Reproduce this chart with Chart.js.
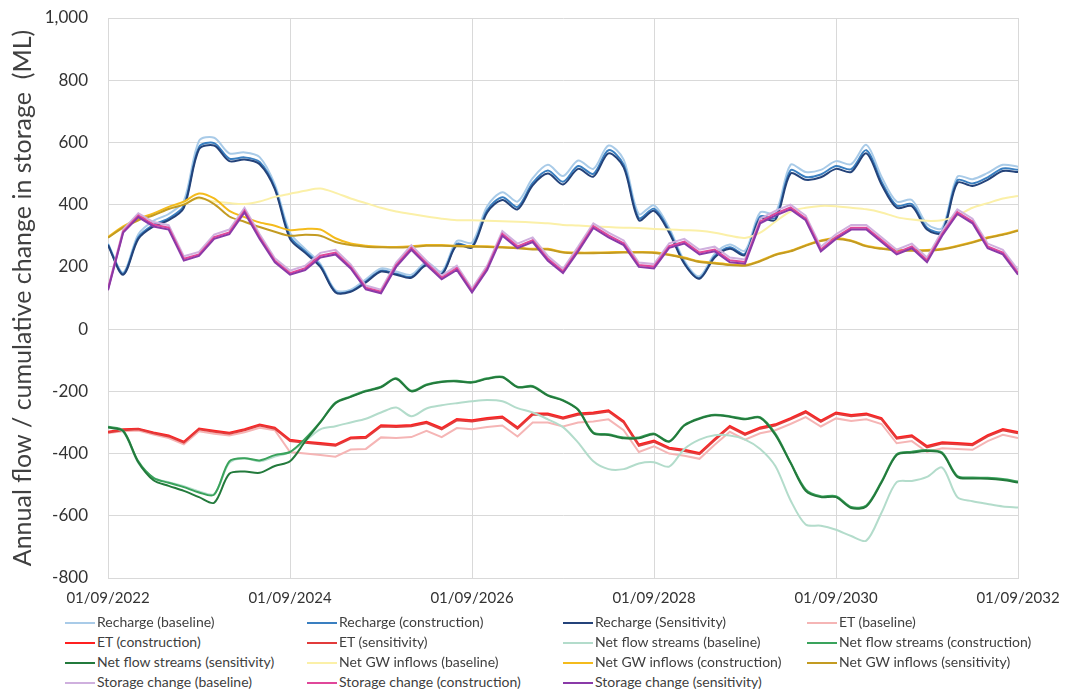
<!DOCTYPE html>
<html lang="en">
<head>
<meta charset="UTF-8">
<title>Annual flow / cumulative change in storage</title>
<style>
  body { margin: 0; background: #fff; font-family: Lato, sans-serif; }
  #wrap { position: relative; width: 1067px; height: 692px; }
  #chart { position: absolute; left: 0; top: 0; }
  .lg { position: absolute; height: 20px; line-height: 20px; font-size: 14px; color: #404040; white-space: nowrap; }
  .lg i { display: inline-block; width: 30px; height: 2px; vertical-align: middle; margin-right: 2px; }
</style>
</head>
<body>
<div id="wrap">
  <canvas id="chart" width="1067" height="614"></canvas>
</div>
<script src="https://cdn.jsdelivr.net/npm/chart.js"></script>
<script>
// months since 01/09/2022, every 2 months
const months = [0,2,4,6,8,10,12,14,16,18,20,22,24,26,28,30,32,34,36,38,40,42,44,46,48,50,52,54,56,58,
  60,62,64,66,68,70,72,74,76,78,80,82,84,86,88,90,92,94,96,98,100,102,104,106,108,110,112,114,116,118,120];
const xTickLabels = ['01/09/2022','01/09/2024','01/09/2026','01/09/2028','01/09/2030','01/09/2032'];

const rechargeBase = [275,182,305,348,370,412,605,615,565,568,553,465,310,258,210,125,127,160,195,185,175,215,185,283,278,395,440,410,485,528,492,542,515,590,545,370,398,325,220,170,242,272,252,375,372,528,505,512,540,530,592,490,410,415,338,325,490,482,502,528,522];
const rechargeCons = [272,178,295,335,356,397,585,598,548,552,537,455,298,250,204,120,122,153,188,178,168,208,178,274,266,382,424,393,470,510,474,524,499,575,529,357,387,316,213,164,234,263,242,362,357,510,489,497,524,514,575,474,397,402,326,315,478,468,488,516,512];
const rechargeSens = [270,175,290,330,350,390,578,590,540,545,530,450,290,245,200,118,120,150,185,175,165,205,175,270,262,375,415,385,462,500,465,515,490,565,520,350,380,310,210,162,230,258,238,355,350,500,480,488,515,505,565,465,390,395,320,310,470,460,480,508,505];

const etBase = [-334,-328,-326,-339,-350,-370,-328,-336,-342,-332,-317,-325,-395,-400,-405,-410,-387,-385,-348,-350,-347,-327,-347,-318,-322,-315,-310,-345,-300,-300,-313,-300,-297,-290,-325,-395,-377,-400,-407,-417,-372,-330,-355,-335,-325,-305,-283,-313,-287,-295,-290,-305,-367,-360,-395,-383,-385,-388,-360,-340,-350];
const etCons = [-330,-322,-320,-332,-342,-362,-320,-327,-333,-322,-307,-317,-356,-362,-366,-371,-348,-346,-309,-311,-308,-298,-318,-289,-293,-286,-281,-316,-271,-271,-284,-271,-268,-261,-296,-371,-358,-381,-388,-398,-353,-311,-336,-316,-306,-286,-264,-294,-268,-276,-271,-286,-348,-341,-376,-364,-366,-369,-341,-321,-331];
const etSens = [-332,-325,-322,-335,-345,-365,-322,-330,-336,-325,-310,-320,-360,-365,-370,-375,-352,-350,-313,-315,-312,-302,-322,-293,-297,-290,-285,-320,-275,-275,-288,-275,-272,-265,-300,-375,-362,-385,-392,-402,-357,-315,-340,-320,-310,-290,-268,-298,-272,-280,-275,-290,-352,-345,-380,-368,-370,-373,-345,-325,-335];

const streamsBase = [-316,-330,-430,-478,-492,-505,-522,-530,-430,-415,-425,-410,-395,-360,-322,-312,-300,-288,-268,-252,-280,-255,-245,-238,-232,-228,-232,-254,-268,-290,-315,-365,-425,-450,-450,-432,-428,-442,-385,-355,-341,-342,-355,-385,-440,-550,-628,-632,-645,-665,-680,-590,-492,-488,-475,-445,-540,-553,-562,-570,-573];
const streamsCons = [-314,-326,-425,-478,-494,-508,-525,-532,-425,-415,-422,-405,-395,-352,-298,-236,-216,-198,-185,-158,-198,-178,-168,-166,-170,-158,-153,-185,-183,-212,-228,-258,-332,-338,-348,-348,-336,-360,-308,-286,-275,-280,-288,-283,-336,-428,-515,-537,-537,-572,-567,-490,-402,-394,-389,-397,-472,-477,-478,-482,-490];
const streamsSens = [-316,-328,-428,-486,-504,-520,-540,-558,-465,-458,-462,-440,-425,-361,-300,-238,-218,-200,-187,-160,-200,-180,-170,-168,-172,-160,-155,-187,-185,-214,-230,-260,-335,-340,-351,-351,-338,-362,-310,-288,-277,-282,-290,-285,-340,-430,-520,-540,-540,-575,-570,-493,-405,-397,-392,-400,-475,-480,-481,-485,-493];

const gwBase = [296,325,350,368,388,405,420,410,405,402,410,425,435,445,452,438,420,405,390,378,370,362,355,350,350,348,347,345,343,340,335,333,330,328,326,325,322,320,318,316,310,300,293,310,345,378,390,396,395,390,385,375,360,352,348,350,365,390,405,420,428];
const gwCons = [296,330,355,372,393,410,436,420,380,360,343,332,318,322,320,292,275,268,265,264,266,270,270,268,267,266,264,262,258,258,248,246,246,247,248,248,247,240,230,218,213,208,206,220,240,252,270,285,292,285,268,260,255,254,254,258,268,280,295,305,318];
const gwSens = [294,326,350,366,386,400,423,402,362,345,328,313,300,303,300,280,270,265,263,262,264,268,268,266,265,264,262,260,256,256,246,244,244,245,246,246,245,238,228,216,211,206,204,218,238,250,268,283,290,283,266,258,253,252,252,256,266,278,293,303,316];

const storageBase = [132,320,372,344,334,234,248,304,320,390,305,228,188,204,245,255,208,140,127,214,270,220,172,204,130,204,315,275,295,235,194,265,340,310,285,214,209,276,290,255,265,230,224,355,380,400,365,265,305,335,335,295,255,275,230,315,385,355,275,255,190];
const storageCons = [128,314,365,336,326,226,240,296,311,381,296,220,180,196,236,246,200,133,120,206,261,212,165,196,123,196,306,266,286,226,186,256,331,301,276,206,201,267,281,246,256,221,216,346,371,391,356,256,296,326,326,286,246,266,221,306,376,346,266,246,181];
const storageSens = [125,310,360,330,320,220,235,290,305,375,290,215,175,190,230,240,195,128,115,200,255,206,160,190,118,190,300,260,280,220,180,250,325,295,270,200,195,261,275,240,250,215,210,340,365,385,350,250,290,320,320,280,240,260,215,300,370,340,260,240,175];

const yTicks = [1000,800,600,400,200,0,-200,-400,-600,-800];

function pts(vals) {
  return vals.map((v, i) => ({ x: months[i], y: v }));
}

const series = [
  ['Recharge (baseline)', rechargeBase, '#a9cbe8', 2, 0.3],
  ['Recharge (construction)', rechargeCons, '#3a7fc0', 2, 0.3],
  ['Recharge (Sensitivity)', rechargeSens, '#24437a', 2, 0.3],
  ['ET (baseline)', etBase, '#f5b5b5', 2, 0],
  ['ET (construction)', etCons, '#ff2020', 2, 0],
  ['ET (sensitivity)', etSens, '#e23b3b', 2, 0],
  ['Net flow streams (baseline)', streamsBase, '#b3dccb', 2, 0.3],
  ['Net flow streams (construction)', streamsCons, '#3aa35c', 2, 0.3],
  ['Net flow streams (sensitivity)', streamsSens, '#237a3c', 2, 0.3],
  ['Net GW inflows (baseline)', gwBase, '#fbf0a8', 2, 0.3],
  ['Net GW inflows (construction)', gwCons, '#f4bb1c', 2, 0.3],
  ['Net GW inflows (sensitivity)', gwSens, '#c39b22', 2, 0.3],
  ['Storage change (baseline)', storageBase, '#cfb0de', 2, 0],
  ['Storage change (construction)', storageCons, '#e0479a', 2, 0],
  ['Storage change (sensitivity)', storageSens, '#8a3aa8', 2, 0]
];

const datasets = series.map((s, i) => ({
  label: s[0],
  data: pts(s[1]),
  borderColor: s[2],
  backgroundColor: s[2],
  borderWidth: s[3],
  tension: s[4],
  pointRadius: 0,
  fill: false,
  order: -i
}));

const gridColor = '#d9d9d9';

new Chart(document.getElementById('chart'), {
  type: 'line',
  data: { datasets: datasets },
  options: {
    responsive: false,
    animation: false,
    layout: { padding: { left: 0, right: 49, top: 18, bottom: 4 } },
    plugins: { legend: { display: false }, tooltip: { enabled: false } },
    scales: {
      x: {
        type: 'linear',
        min: 0,
        max: 120,
        ticks: {
          stepSize: 24,
          color: '#333',
          font: { family: 'Lato', size: 15 },
          padding: 3,
          maxRotation: 0,
          callback: function(v) { return xTickLabels[v / 24]; }
        },
        // invisible tick marks only give the labels their distance from the axis
        grid: { color: gridColor, tickLength: 8, tickColor: 'rgba(0,0,0,0)' },
        border: { color: gridColor }
      },
      y: {
        min: -800,
        max: 1000,
        afterBuildTicks: function(scale) { scale.ticks = yTicks.map(v => ({ value: v })); },
        afterFit: function(scale) { scale.width = 108; },
        ticks: {
          color: '#333',
          font: { family: 'Lato', size: 17 },
          padding: 3,
          callback: function(v) { return v.toLocaleString('en-US'); }
        },
        grid: { color: gridColor, tickLength: 17, tickColor: 'rgba(0,0,0,0)' },
        border: { color: gridColor },
        title: {
          display: true,
          text: 'Annual flow / cumulative change in storage  (ML)',
          color: '#404040',
          font: { family: 'Lato', size: 25 },
          padding: { top: 8, bottom: 0 }
        }
      }
    }
  }
});

// legend in 4 columns like the original
const colX = [65, 307, 563, 807];
const wrap = document.getElementById('wrap');
datasets.forEach((d, i) => {
  const el = document.createElement('div');
  el.className = 'lg';
  el.style.left = colX[i % 4] + 'px';
  el.style.top = (612 + Math.floor(i / 4) * 20) + 'px';
  el.innerHTML = '<i style="background:' + d.borderColor + '"></i>' + d.label;
  wrap.appendChild(el);
});
</script>
</body>
</html>
